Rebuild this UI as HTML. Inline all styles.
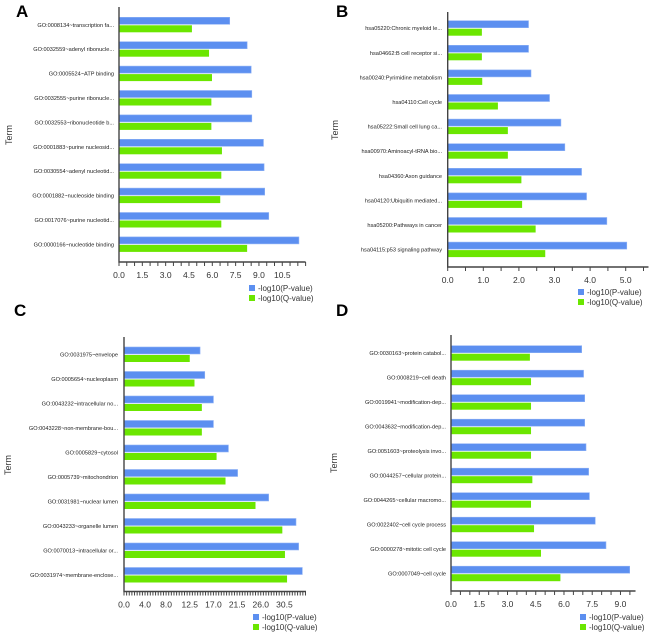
<!DOCTYPE html>
<html><head><meta charset="utf-8"><style>
body{margin:0;background:#fff;}
svg{display:block;font-family:"Liberation Sans",sans-serif;}
</style></head><body>
<svg id="chart" width="650" height="634" viewBox="0 0 650 634"></svg>
<script>
const termsA=["GO:0008134~transcription fa...","GO:0032559~adenyl ribonucle...","GO:0005524~ATP binding","GO:0032555~purine ribonucle...","GO:0032553~ribonucleotide b...","GO:0001883~purine nucleosid...","GO:0030554~adenyl nucleotid...","GO:0001882~nucleoside binding","GO:0017076~purine nucleotid...","GO:0000166~nucleotide binding"];
const pA=[7.12,8.24,8.5,8.54,8.54,9.29,9.33,9.37,9.63,11.57];
const qA=[4.69,5.79,5.98,5.94,5.94,6.62,6.58,6.51,6.58,8.24];
const ticksA=["0.0","1.5","3.0","4.5","6.0","7.5","9.0","10.5"];
const termsB=["hsa05220:Chronic myeloid le...","hsa04662:B cell receptor si...","hsa00240:Pyrimidine metabolism","hsa04110:Cell cycle","hsa05222:Small cell lung ca...","hsa00970:Aminoacyl-tRNA bio...","hsa04360:Axon guidance","hsa04120:Ubiquitin mediated...","hsa05200:Pathways in cancer","hsa04115:p53 signaling pathway"];
const pB=[2.27,2.27,2.34,2.86,3.18,3.29,3.76,3.90,4.47,5.03];
const qB=[0.96,0.96,0.97,1.41,1.69,1.69,2.07,2.09,2.47,2.74];
const ticksB=["0.0","1.0","2.0","3.0","4.0","5.0"];
const termsC=["GO:0031975~envelope","GO:0005654~nucleoplasm","GO:0043232~intracellular no...","GO:0043228~non-membrane-bou...","GO:0005829~cytosol","GO:0005739~mitochondrion","GO:0031981~nuclear lumen","GO:0043233~organelle lumen","GO:0070013~intracellular or...","GO:0031974~membrane-enclose..."];
const pC=[14.46,15.35,17.0,17.0,19.85,21.6,27.5,32.7,33.2,33.9];
const qC=[12.5,13.4,14.8,14.8,17.6,19.3,25.0,30.1,30.6,31.0];
const ticksC=["0.0","4.0","8.0","12.5","17.0","21.5","26.0","30.5"];
const termsD=["GO:0030163~protein catabol...","GO:0008219~cell death","GO:0019941~modification-dep...","GO:0043632~modification-dep...","GO:0051603~proteolysis invo...","GO:0044257~cellular protein...","GO:0044265~cellular macromo...","GO:0022402~cell cycle process","GO:0000278~mitotic cell cycle","GO:0007049~cell cycle"];
const pD=[6.94,7.04,7.10,7.10,7.17,7.31,7.35,7.66,8.23,9.49];
const qD=[4.19,4.25,4.25,4.25,4.25,4.32,4.25,4.41,4.78,5.81];
const ticksD=["0.0","1.5","3.0","4.5","6.0","7.5","9.0"];

const NS="http://www.w3.org/2000/svg";
const svg=document.getElementById('chart');
function mk(tag,attrs,parent,text){const e=document.createElementNS(NS,tag);for(const k in attrs)e.setAttribute(k,attrs[k]);if(text!==undefined)e.textContent=text;(parent||svg).appendChild(e);return e;}

function panel(id,letter,lx,ly,terms,pv,qv,ticks,cfg){
  const g=mk('g',{});
  
  
  const x=v=>cfg.x0+v*cfg.ppu;
  const L=mk('text',{x:lx,y:ly,'font-size':17,'font-weight':'bold',fill:'#000'},g,letter);
  
  
  const T=mk('text',{x:cfg.termX,y:cfg.termY,'font-size':9,fill:'#333','text-anchor':'middle',transform:'rotate(-90 '+cfg.termX+' '+cfg.termY+')'},g,'Term');
  
  
  terms.forEach((t,i)=>{
    const y=cfg.top+i*cfg.sp;
    const b=mk('rect',{x:cfg.x0,y:y,width:Math.max(0,x(pv[i])-cfg.x0),height:7,fill:'#5c8ff0',stroke:'#8fb2f5','stroke-width':0.6},g);
    
    
    const c=mk('rect',{x:cfg.x0,y:y+8,width:Math.max(0,x(qv[i])-cfg.x0),height:7,fill:'#6be600'},g);
    
    
    const lb=mk('text',{x:cfg.labX,y:y+9.5,'font-size':5.6,fill:'#222','text-anchor':'end'},g,t);
    
    
  });
  const ax=mk('path',{d:`M${cfg.x0} ${cfg.axTop}V${cfg.bottom}H${x(cfg.max)}`,stroke:'#444','stroke-width':1.4,fill:'none'},g);
  
  
  for(let v=0;v<=cfg.max+1e-6;v+=cfg.minor){
    mk('line',{x1:x(v),x2:x(v),y1:cfg.bottom,y2:cfg.bottom+4,stroke:'#444','stroke-width':1},g);
  }
  ticks.forEach(s=>{
    const tl=mk('text',{x:x(parseFloat(s)),y:cfg.bottom+16,'font-size':8.5,fill:'#333','text-anchor':'middle'},g,s);
    
    
  });
  const lg=mk('g',{},g);
  
  
  [['#5c8ff0','-log10(P-value)'],['#6be600','-log10(Q-value)']].forEach((e,k)=>{
    const yy=cfg.legY+k*10;
    mk('rect',{x:cfg.legX,y:yy,width:6,height:6,fill:e[0]},lg);
    const lt=mk('text',{x:cfg.legX+9,y:yy+6,'font-size':8,fill:'#333'},lg,e[1]);
    
    
  });
}
panel('a','A',16,17,termsA,pA,qA,ticksA,{x0:119,ppu:15.55,max:12,minor:0.5,top:17.3,sp:24.4,bottom:262,axTop:7,labX:114,termX:12,termY:135,legX:249,legY:285});
panel('b','B',336,17,termsB,pB,qB,ticksB,{x0:447.7,ppu:35.6,max:5.64,minor:0.5,top:20.7,sp:24.6,bottom:267,axTop:12,labX:442,termX:338,termY:130,legX:578,legY:289});
panel('c','C',14,316,termsC,pC,qC,ticksC,{x0:124,ppu:5.26,max:34.6,minor:0.5,top:347,sp:24.5,bottom:591.5,axTop:337,labX:118,termX:11,termY:465,legX:253,legY:614});
panel('d','D',336,316,termsD,pD,qD,ticksD,{x0:451,ppu:18.83,max:9.8,minor:0.5,top:345.7,sp:24.5,bottom:591,axTop:335,labX:446,termX:337,termY:463,legX:580,legY:614});
</script>
</body></html>
